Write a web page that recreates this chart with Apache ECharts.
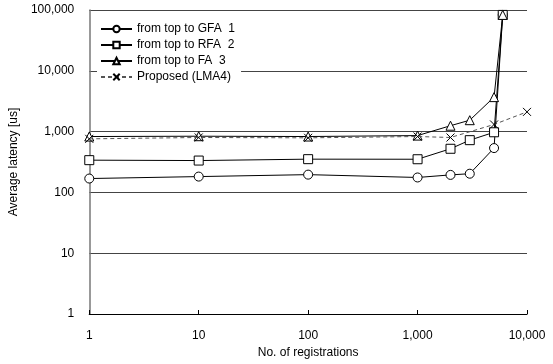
<!DOCTYPE html>
<html>
<head>
<meta charset="utf-8">
<script src="https://cdn.jsdelivr.net/npm/echarts@6/dist/echarts.min.js"></script>
<style>
  html, body { margin: 0; padding: 0; background: #fff; }
  #main { width: 553px; height: 364px; }
</style>
</head>
<body>
<div id="main"></div>
<script>
// x positions (No. of registrations)
var xGFA = [1, 10, 100, 1000, 2000, 3000, 5000, 6000];
var yGFA = [169, 182, 196, 176, 194, 203, 536, 83000];

var xRFA = [1, 10, 100, 1000, 2000, 3000, 5000, 6000];
var yRFA = [339, 334, 352, 351, 522, 723, 975, 83000];

var xFA = [1, 10, 100, 1000, 2000, 3000, 5000, 6000];
var yFA = [830, 840, 830, 860, 1250, 1540, 3690, 83000];

var xLMA = [1, 10, 100, 1000, 2000, 5000, 10000];
var yLMA = [760, 800, 790, 830, 800, 1310, 2110];

var seriesNames = ['from top to GFA  1', 'from top to RFA  2', 'from top to FA  3', 'Proposed (LMA4)'];

function pairs(xs, ys) {
    return xs.map(function (x, i) { return [x, ys[i]]; });
}

function fmt(v) {
    return Math.round(v).toLocaleString('en-US');
}

var FONT = 'Liberation Sans, Arial, sans-serif';
var crossPath = 'path://M0,0L10,10M10,0L0,10';

var chart = echarts.init(document.getElementById('main'));

var option = {
    animation: false,
    backgroundColor: '#fff',
    textStyle: { fontFamily: FONT },
    grid: { left: 82, right: 26, top: 10, bottom: 47, containLabel: false },

    legend: {
        orient: 'vertical',
        left: 97,
        top: 21,
        backgroundColor: '#fff',
        padding: [2, 6, 2, 3],
        itemGap: 4,
        itemWidth: 31,
        itemHeight: 8,
        textStyle: { fontSize: 12, color: '#000', fontFamily: FONT },
        data: seriesNames
    },

    xAxis: {
        type: 'log',
        logBase: 10,
        min: 1,
        max: 10000,
        name: 'No. of registrations',
        nameLocation: 'middle',
        nameGap: 33,
        nameTextStyle: { fontSize: 12, color: '#000', fontFamily: FONT },
        axisLine: { lineStyle: { color: '#000', width: 1.2 } },
        axisTick: { show: true, inside: true, length: 4, lineStyle: { color: '#000' } },
        axisLabel: { fontSize: 12, color: '#000', margin: 16, formatter: fmt },
        splitLine: { show: false },
        minorTick: { show: false }
    },

    yAxis: {
        type: 'log',
        logBase: 10,
        min: 1,
        max: 100000,
        name: 'Average latency [us]',
        nameLocation: 'middle',
        nameGap: 64,
        nameRotate: 90,
        nameTextStyle: { fontSize: 12, color: '#000', fontFamily: FONT },
        axisLine: { lineStyle: { color: '#777', width: 1.5 } },
        axisTick: { show: false },
        axisLabel: { fontSize: 12, color: '#000', margin: 15, formatter: fmt },
        splitLine: { show: true, lineStyle: { color: '#444', width: 1 } }
    },

    series: [{
        name: seriesNames[0],
        type: 'line',
        data: pairs(xGFA, yGFA),
        symbol: 'circle',
        symbolSize: 9,
        showAllSymbol: true,
        lineStyle: { color: '#000', width: 1 },
        itemStyle: { color: '#fff', borderColor: '#000', borderWidth: 1 },
        z: 2
    }, {
        name: seriesNames[1],
        type: 'line',
        data: pairs(xRFA, yRFA),
        symbol: 'rect',
        symbolSize: 9,
        showAllSymbol: true,
        lineStyle: { color: '#000', width: 1 },
        itemStyle: { color: '#fff', borderColor: '#000', borderWidth: 1 },
        z: 3
    }, {
        name: seriesNames[2],
        type: 'line',
        data: pairs(xFA, yFA),
        symbol: 'triangle',
        symbolSize: 9,
        showAllSymbol: true,
        lineStyle: { color: '#000', width: 1 },
        itemStyle: { color: '#fff', borderColor: '#000', borderWidth: 1 },
        z: 4
    }, {
        name: seriesNames[3],
        type: 'line',
        data: pairs(xLMA, yLMA),
        symbol: crossPath,
        symbolSize: 8,
        showAllSymbol: true,
        lineStyle: { color: '#555', width: 1, type: [4, 3] },
        itemStyle: { color: 'none', borderColor: '#000', borderWidth: 1 },
        z: 5
    }]
};

chart.setOption(option);
</script>
</body>
</html>
